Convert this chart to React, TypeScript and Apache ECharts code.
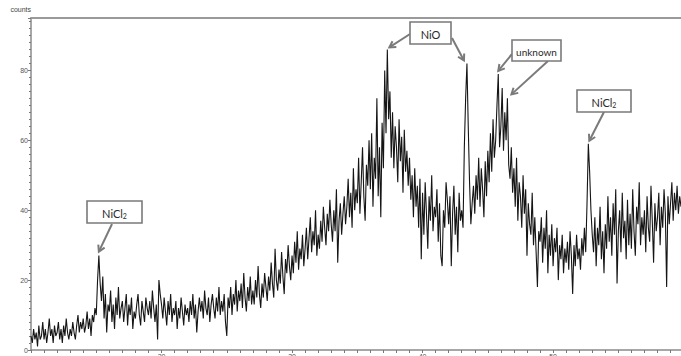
import React, { useEffect, useRef } from "react";
import * as echarts from "echarts";

// 2θ sampling grid
const START_2THETA = 10;
const STEP_2THETA = 0.1;

// counts, 0.1° steps from 10.0° to 59.8°
const counts: number[] = [
  // 10
  4, 2, 6, 3, 5, 1, 7, 3, 4, 8,
  // 11
  3, 6, 2, 5, 9, 4, 6, 2, 7, 4,
  // 12
  5, 8, 3, 6, 2, 7, 4, 9, 5, 3,
  // 13
  6, 4, 8, 5, 3, 7, 10, 5, 8, 6,
  // 14
  9, 5, 7, 11, 6, 9, 4, 10, 8, 12,
  // 15
  10, 20, 27, 19, 14, 21, 9, 16, 5, 13,
  // 16
  11, 17, 8, 13, 6, 15, 10, 18, 9, 12,
  // 17
  14, 8, 12, 16, 7, 13, 10, 15, 6, 11,
  // 18
  9, 13, 16, 10, 7, 14, 11, 8, 15, 12,
  // 19
  10, 14, 9, 17, 12, 8, 13, 3, 20, 16,
  // 20
  13, 9, 15, 11, 7, 14, 10, 16, 8, 12,
  // 21
  10, 14, 6, 12, 9, 15, 11, 7, 13, 10,
  // 22
  12, 8, 14, 10, 16, 9, 13, 5, 11, 15,
  // 23
  11, 14, 9, 17, 12, 10, 15, 8, 13, 16,
  // 24
  12, 9, 15, 11, 18, 10, 14, 11, 16, 8,
  // 25
  4, 15, 12, 18, 10, 16, 13, 20, 11, 17,
  // 26
  14, 19, 12, 22, 15, 11, 18, 14, 21, 13,
  // 27
  17, 13, 20, 15, 24, 16, 12, 19, 15, 22,
  // 28
  18, 14, 21, 17, 25, 19, 15, 29, 20, 17,
  // 29
  23, 19, 28, 21, 16, 26, 22, 30, 24, 20,
  // 30
  27, 22, 31, 25, 34, 23, 29, 26, 33, 24,
  // 31
  29, 35, 26, 32, 38, 28, 34, 30, 40, 27,
  // 32
  33, 29, 37, 31, 41, 35, 30, 39, 34, 43,
  // 33
  36, 31, 40, 34, 46, 25, 37, 42, 33, 39,
  // 34
  44, 36, 41, 49, 38, 45, 35, 52, 40, 46,
  // 35
  42, 55, 39, 48, 58, 44, 37, 53, 47, 60,
  // 36
  46, 62, 41, 55, 49, 72, 44, 58, 38, 65,
  // 37
  52, 80, 62, 86, 66, 74, 55, 68, 52, 64,
  // 38
  58, 48, 66, 54, 61, 45, 63, 51, 57, 47,
  // 39
  55, 43, 50, 38, 52, 41, 47, 35, 49, 26,
  // 40
  45, 33, 48, 39, 29, 44, 37, 50, 34, 41,
  // 41
  38, 46, 31, 42, 27, 24, 40, 35, 48, 43,
  // 42
  36, 44, 24, 39, 47, 33, 41, 28, 45, 37,
  // 43
  40, 35, 58, 72, 82, 64, 48, 36, 42, 47,
  // 44
  39, 50, 43, 55, 41, 52, 46, 38, 54, 44,
  // 45
  57, 48, 62, 51, 66, 55, 60, 70, 79, 58,
  // 46
  64, 75, 57, 68, 60, 72, 53, 49, 58, 45,
  // 47
  52, 41, 55, 37, 48, 44, 35, 50, 39, 46,
  // 48
  27, 42, 36, 33, 45, 30, 38, 28, 18, 34,
  // 49
  31, 38, 25, 35, 29, 40, 22, 33, 27, 36,
  // 50
  24, 32, 28, 35, 20, 30, 26, 33, 22, 29,
  // 51
  25, 31, 23, 34, 27, 16, 30, 24, 33, 26,
  // 52
  29, 23, 32, 27, 35, 28, 42, 59, 51, 40,
  // 53
  33, 28, 38, 24, 35, 30, 41, 26, 34, 22,
  // 54
  36, 29, 44, 31, 38, 27, 42, 33, 46, 19,
  // 55
  34, 40, 28, 45, 32, 37, 26, 43, 30, 39,
  // 56
  29, 46, 34, 27, 41, 36, 48, 30, 38, 33,
  // 57
  40, 28, 44, 35, 31, 47, 37, 25, 42, 34,
  // 58
  38, 45, 30, 41, 35, 46, 39, 18, 44, 36,
  // 59
  42, 48, 37, 45, 40, 47, 39, 44, 41,
];

// annotation labels and the peaks they point at
const labelTexts = ["NiCl{s|2}", "NiO", "unknown", "NiCl{s|2}"];
const labelSizes = [11, 11, 10, 11];
const peakX = [15.2, 37.3, 43.4, 45.8, 46.5, 52.7];
const peakY = [27, 86, 82, 79, 72, 59];

const W = 681;
const H = 368;

export default function App() {
  const ref = useRef<HTMLDivElement>(null);

  useEffect(() => {
    if (!ref.current) return;
    const chart = echarts.init(ref.current, undefined, { renderer: "svg" });
    const data = counts.map((v, i) => [
      +(START_2THETA + i * STEP_2THETA).toFixed(1),
      v,
    ]);
    const font = "'Liberation Sans', Arial, sans-serif";
    const boxFont = "Lato, 'Open Sans', sans-serif";
    const grey = "#7a7a7a";

    chart.setOption({
      animation: false,
      backgroundColor: "#ffffff",
      grid: { left: 31, right: 0, top: 18, bottom: H - 350 },
      xAxis: [
        {
          type: "value",
          min: 10,
          max: 59.8,
          interval: 10,
          axisLine: { onZero: false, lineStyle: { color: "#8a8a8a", width: 1.5 } },
          axisTick: { show: true, length: 3, lineStyle: { color: "#777" } },
          minorTick: { show: true, splitNumber: 10, length: 3, lineStyle: { color: "#777" } },
          splitLine: { show: false },
          axisLabel: {
            showMinLabel: false,
            showMaxLabel: false,
            fontSize: 7,
            color: "#555",
            margin: 3,
            fontFamily: font,
          },
        },
        {
          type: "value",
          position: "top",
          min: 10,
          max: 59.8,
          axisLine: { show: true, onZero: false, lineStyle: { color: "#9a9a9a", width: 1.8 } },
          axisTick: { show: false },
          axisLabel: { show: false },
          splitLine: { show: false },
        },
      ],
      yAxis: {
        type: "value",
        min: 0,
        max: 95,
        interval: 20,
        name: "counts",
        nameLocation: "end",
        nameGap: 5,
        nameTextStyle: { fontSize: 7, color: "#444", align: "right", fontFamily: font },
        axisLine: { show: true, lineStyle: { color: "#8a8a8a", width: 1.5 } },
        axisTick: { show: true, length: 3, lineStyle: { color: "#777" } },
        minorTick: { show: true, splitNumber: 10, length: 2, lineStyle: { color: "#777" } },
        splitLine: { show: false },
        axisLabel: {
          showMaxLabel: false,
          fontSize: 7,
          color: "#555",
          margin: 3,
          fontFamily: font,
        },
      },
      series: [
        {
          type: "line",
          data,
          showSymbol: false,
          sampling: "none" as any,
          lineStyle: { color: "#151515", width: 1.1 },
          z: 2,
        },
      ],
    });

    // annotation layout (boxes in pixels, arrows aimed at the data peaks)
    const boxes = [
      { x: 87, y: 201, w: 55, h: 22 },
      { x: 410, y: 22, w: 41, h: 22 },
      { x: 512, y: 40, w: 49, h: 21 },
      { x: 577, y: 90, w: 54, h: 22 },
    ];
    const arrowStarts = [
      [112, 224],
      [410, 34],
      [452, 38],
      [512, 54],
      [548, 61],
      [604, 112],
    ];
    const tipOffsets = [
      [0, -4],
      [2, -2],
      [-3, -3],
      [0, -3],
      [4, -4],
      [1, -3],
    ];

    const graphics: any[] = [];
    peakX.forEach((px, i) => {
      const p = chart.convertToPixel({ seriesIndex: 0 }, [px, peakY[i]]) as number[];
      const tx = p[0] + tipOffsets[i][0];
      const ty = p[1] + tipOffsets[i][1];
      const [sx, sy] = arrowStarts[i];
      const dx = tx - sx;
      const dy = ty - sy;
      const len = Math.sqrt(dx * dx + dy * dy);
      const ux = dx / len;
      const uy = dy / len;
      const hl = 7;
      const a = Math.PI / 6;
      const h1 = [
        tx - hl * (ux * Math.cos(a) - uy * Math.sin(a)),
        ty - hl * (uy * Math.cos(a) + ux * Math.sin(a)),
      ];
      const h2 = [
        tx - hl * (ux * Math.cos(a) + uy * Math.sin(a)),
        ty - hl * (uy * Math.cos(a) - ux * Math.sin(a)),
      ];
      graphics.push({
        type: "line",
        z: 10,
        shape: { x1: sx, y1: sy, x2: tx, y2: ty },
        style: { stroke: grey, lineWidth: 2 },
      });
      graphics.push({
        type: "polyline",
        z: 10,
        shape: { points: [h1, [tx, ty], h2] },
        style: { stroke: grey, lineWidth: 2, fill: null },
      });
    });
    boxes.forEach((b, i) => {
      graphics.push({
        type: "rect",
        z: 11,
        shape: { x: b.x, y: b.y, width: b.w, height: b.h },
        style: { fill: "#fff", stroke: grey, lineWidth: 1.6 },
      });
      graphics.push({
        type: "text",
        z: 12,
        x: b.x + b.w / 2,
        y: b.y + b.h / 2 + 1,
        style: {
          text: labelTexts[i],
          fontSize: labelSizes[i],
          fontFamily: boxFont,
          fill: "#2a2a2a",
          align: "center",
          verticalAlign: "middle",
          rich: {
            s: {
              fontSize: 7,
              fill: "#2a2a2a",
              fontFamily: boxFont,
              verticalAlign: "bottom",
              padding: [6, 0, 0, 0],
            },
          },
        },
      });
    });
    chart.setOption({ graphic: graphics });

    return () => chart.dispose();
  }, []);

  return (
    <div
      style={{
        position: "fixed",
        left: 0,
        top: 0,
        width: W,
        height: 356,
        overflow: "hidden",
        background: "#fff",
      }}
    >
      <div ref={ref} style={{ width: W, height: H }} />
    </div>
  );
}
